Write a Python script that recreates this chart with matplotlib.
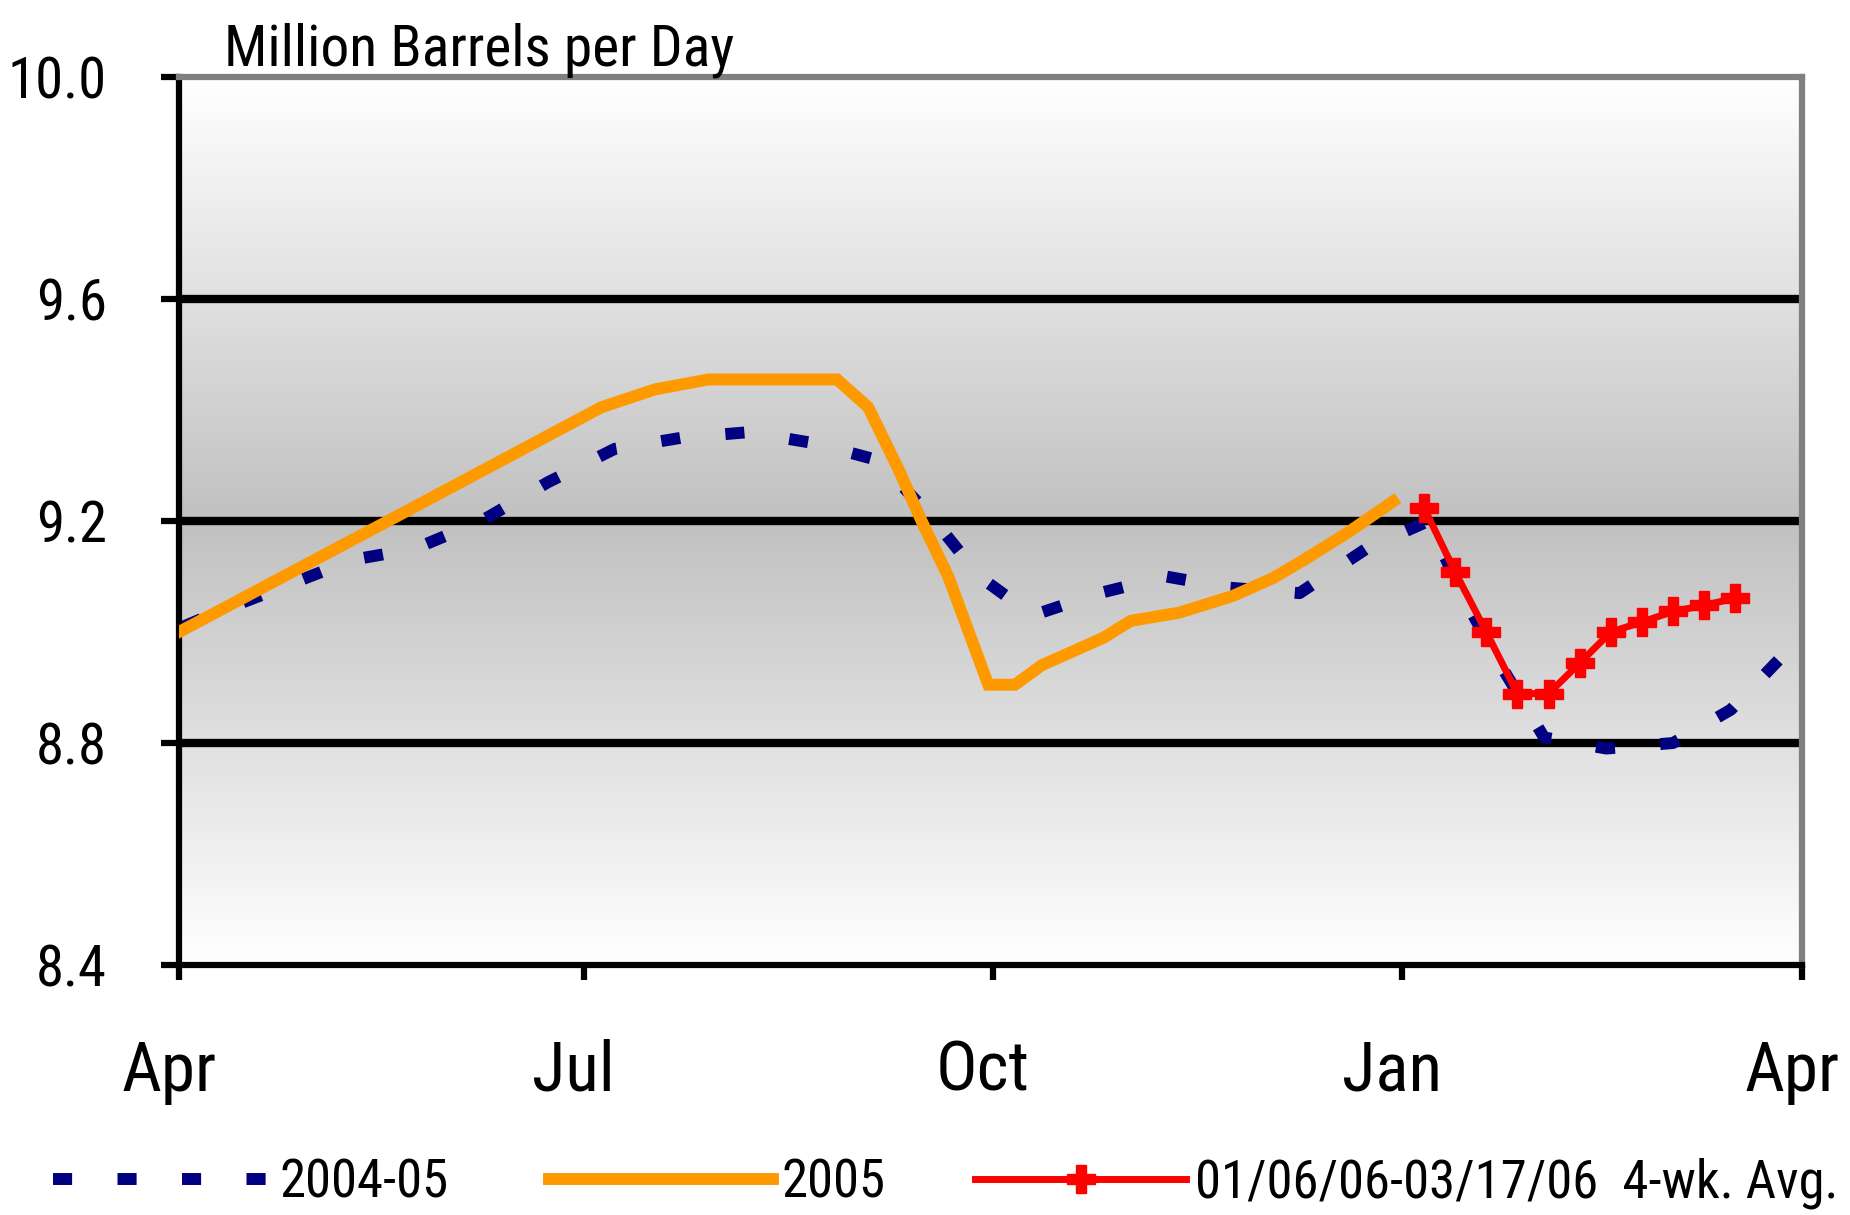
import os
import matplotlib
matplotlib.use("Agg")
import matplotlib.pyplot as plt
from matplotlib import font_manager
from matplotlib.font_manager import FontProperties
from matplotlib.lines import Line2D
from matplotlib.transforms import ScaledTranslation
import numpy as np
from datetime import datetime

# ---- data -----------------------------------------------------------------
# 2004-05 season (shown on an Apr-Apr calendar)
dates_0405 = ["04-02", "04-11", "04-24", "05-10", "05-24", "06-08", "06-23",
              "07-08", "07-23", "08-07", "08-22", "09-05", "09-17", "09-28",
              "10-10", "10-25", "11-09", "11-23", "12-09", "12-24", "01-07",
              "01-15", "01-24", "02-02", "02-16", "03-03", "03-16", "03-28"]
vals_0405 = [9.01, 9.04, 9.08, 9.13, 9.15, 9.20, 9.27,
             9.33, 9.35, 9.36, 9.34, 9.31, 9.21, 9.10,
             9.03, 9.07, 9.10, 9.08, 9.07, 9.15, 9.20,
             9.06, 8.93, 8.81, 8.79, 8.80, 8.86, 8.96]

# 2005
dates_2005 = ["04-01", "05-18", "07-05", "07-17", "07-29", "08-27", "09-03",
              "09-10", "09-15", "09-21", "09-30", "10-06", "10-12", "10-26",
              "11-01", "11-12", "11-24", "12-03", "12-10", "12-20", "12-30"]
vals_2005 = [9.00, 9.20, 9.405, 9.437, 9.455, 9.455, 9.405,
             9.29, 9.20, 9.10, 8.905, 8.905, 8.94, 8.99,
             9.02, 9.035, 9.065, 9.097, 9.13, 9.18, 9.235]

# 4-week average, 01/06/06 - 03/17/06
dates_2006 = ["01-06", "01-13", "01-20", "01-27", "02-03", "02-10",
              "02-17", "02-24", "03-03", "03-10", "03-17"]
vals_2006 = [9.224, 9.108, 9.00, 8.889, 8.889, 8.944,
             9.00, 9.018, 9.037, 9.048, 9.061]

labels = ["2004-05", "2005", "01/06/06-03/17/06  4-wk. Avg."]
y_ticks = [8.4, 8.8, 9.2, 9.6, 10.0]
x_tick_months = [(2005, 4), (2005, 7), (2005, 10), (2006, 1), (2006, 4)]
y_title = "Million Barrels per Day"

# ---- helpers --------------------------------------------------------------
def season_date(md):
    """Place a MM-DD string on the April-to-April season axis."""
    m, d = (int(p) for p in md.split("-"))
    return datetime(2005 if m >= 4 else 2006, m, d)


def pick_font():
    """Prefer a narrow sans face; fall back to Liberation Sans."""
    files = {f.fname for f in font_manager.fontManager.ttflist}
    files |= set(font_manager.findSystemFonts())
    names = {os.path.basename(f).lower(): f for f in files}
    prefs = ["liberationsansnarrow-regular", "robotocondensed-regular",
             "dejavusanscondensed.ttf", "notosans-condensed.ttf",
             "notosans-condensedregular", "opensans-condensed-regular",
             "opensans_condensed-regular", "lato-regular"]
    for p in prefs:
        for base, full in names.items():
            if base.startswith(p) and not base.endswith(".pfb"):
                return FontProperties(fname=full)
    for base, full in names.items():
        if (("condensed" in base or "narrow" in base)
                and not any(k in base for k in ("bold", "italic", "oblique", "light", "thin", "black", "medium"))):
            return FontProperties(fname=full)
    return FontProperties(family="Liberation Sans")


FP = pick_font()

NAVY = "#000080"
ORANGE = "#FF9900"
RED = "#FF0000"

W, H = 1850, 1215
fig = plt.figure(figsize=(W / 100, H / 100), dpi=100)
renderer = fig.canvas.get_renderer()


def fit_size(strings, target_px, max_pt):
    """Largest size (<= max_pt) whose widest string spans target_px."""
    widest = 0
    for s in strings:
        t = fig.text(0, 0, s, fontproperties=FP, fontsize=100)
        widest = max(widest, t.get_window_extent(renderer).width)
        t.remove()
    return min(max_pt, 100 * target_px / widest)


ax = fig.add_axes([179 / W, 1 - 965 / H, (1802 - 179) / W, (965 - 77) / H])

# vertical gradient: white at the edges, silver in the middle
n = 400
t = np.linspace(0, 1, n)
level = np.round(255 - 63 * (1 - np.abs(2 * t - 1))) / 255.0
grad = np.stack([level, level, level], axis=-1)[:, None, :].repeat(2, axis=1)
ax.imshow(grad, extent=[0, 1, 0, 1], transform=ax.transAxes,
          aspect="auto", zorder=0, interpolation="nearest")

x0405 = [season_date(d) for d in dates_0405]
x2005 = [season_date(d) for d in dates_2005]
x2006 = [season_date(d) for d in dates_2006]

ax.plot(x0405, vals_0405, color=NAVY, lw=8.6, dashes=(1.6, 3.8),
        solid_capstyle="butt", dash_capstyle="butt", zorder=3)
ax.plot(x2005, vals_2005, color=ORANGE, lw=8.6, solid_joinstyle="miter", zorder=4)
ax.plot(x2006, vals_2006, color=RED, lw=5, marker="P", ms=20,
        mec=RED, mfc=RED, zorder=5)

ax.set_ylim(y_ticks[0], y_ticks[-1])
ax.set_xlim(datetime(2005, 4, 1), datetime(2006, 4, 1))
ax.set_yticks(y_ticks)
ylabels = [f"{v:.1f}" for v in y_ticks]
ax.set_yticklabels(ylabels)
xticks = [datetime(y, m, 1) for y, m in x_tick_months]
ax.set_xticks(xticks)
ax.set_xticklabels([d.strftime("%b") for d in xticks])

ax.set_axisbelow(True)
ax.yaxis.grid(True, color="black", lw=6)
for gl, v in zip(ax.yaxis.get_gridlines(), y_ticks):
    if v in (y_ticks[0], y_ticks[-1]):
        gl.set_visible(False)

for side in ("left", "bottom"):
    ax.spines[side].set_color("black")
    ax.spines[side].set_linewidth(4.5)
for side in ("top", "right"):
    ax.spines[side].set_color("#808080")
    ax.spines[side].set_linewidth(4.5)

ysize = fit_size(ylabels, 99, 52)
xsize = fit_size(["Apr", "Jul", "Oct", "Jan"], 100, 52)
ax.tick_params(axis="y", direction="out", length=13, width=4.5, pad=39, colors="black")
ax.tick_params(axis="x", direction="out", length=11, width=4.5, pad=42, colors="black")
for lab in ax.get_yticklabels():
    lab.set_fontproperties(FP)
    lab.set_fontsize(ysize)
shift = ScaledTranslation(-10 / 100, 0, fig.dpi_scale_trans)
for lab in ax.get_xticklabels():
    lab.set_fontproperties(FP)
    lab.set_fontsize(xsize)
    lab.set_transform(lab.get_transform() + shift)

tsize = fit_size([y_title], 510, 48)
fig.text(224 / W, 1 - 65 / H, y_title, fontproperties=FP, fontsize=tsize,
         va="baseline", ha="left")

# legend: one entry per block, laid out left to right
lsize = fit_size([labels[2]], 643, 44)
handles = [
    Line2D([], [], color=NAVY, lw=8.6, dashes=(1.6, 3.8), dash_capstyle="butt"),
    Line2D([], [], color=ORANGE, lw=8.6),
    Line2D([], [], color=RED, lw=5, marker="P", ms=20, mec=RED, mfc=RED),
]
starts = [53, 549, 975]
lengths_px = [218, 224, 211]
lsize_px = lsize * 100 / 72
lprop = FP.copy()
lprop.set_size(lsize)
for h, lab, x, hl in zip(handles, labels, starts, lengths_px):
    fig.legend([h], [lab], loc="center left", bbox_to_anchor=(x / W, 1 - 1183 / H),
               frameon=False, prop=lprop, handlelength=hl / lsize_px,
               handletextpad=9 / lsize_px, borderpad=0, borderaxespad=0, numpoints=1)

fig.savefig("out.png", dpi=100)
